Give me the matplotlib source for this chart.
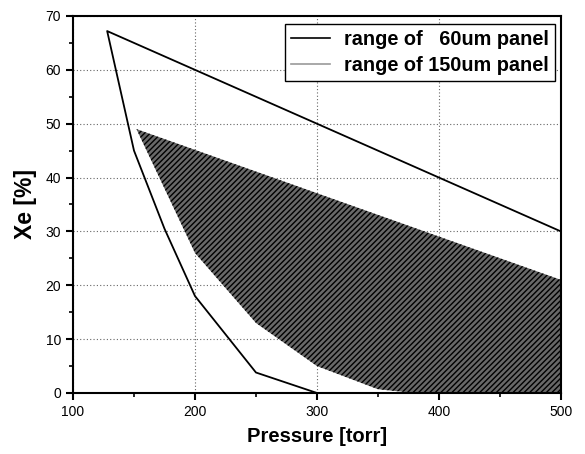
import matplotlib
matplotlib.use("Agg")
import matplotlib.pyplot as plt
from matplotlib.lines import Line2D
from matplotlib.ticker import MultipleLocator

# range of 60um panel (outline)
p60_top_x = [500, 128]
p60_top_y = [30, 67.2]
p60_low_x = [128, 150, 175, 200, 250, 300, 500, 500]
p60_low_y = [67.2, 45, 30.5, 18, 3.8, 0, 0, 30]

# range of 150um panel (shaded)
p150_x = [152, 500, 500, 380, 350, 300, 250, 200, 152]
p150_y = [49, 21, 0, 0, 0.7, 5, 13, 26, 49]

plt.rcParams["font.family"] = ["Liberation Sans", "DejaVu Sans"]
plt.rcParams["hatch.linewidth"] = 1.0
plt.rcParams["hatch.color"] = "black"

fig = plt.figure(figsize=(5.85, 4.54), dpi=100)
ax = fig.add_axes([0.1248, 0.1344, 0.834, 0.8304])

ax.fill(p150_x, p150_y, facecolor="#686868", edgecolor="black", hatch="//////", linewidth=0, zorder=2)
ax.plot(p60_top_x + p60_low_x, p60_top_y + p60_low_y, color="black", lw=1.3, zorder=3)

ax.set_xlim(100, 500)
ax.set_ylim(0, 70)
ax.xaxis.set_major_locator(MultipleLocator(100))
ax.xaxis.set_minor_locator(MultipleLocator(50))
ax.yaxis.set_major_locator(MultipleLocator(10))
ax.yaxis.set_minor_locator(MultipleLocator(5))
ax.grid(True, which="major", color="#666666", linestyle=(0, (1, 2)), linewidth=0.8, zorder=1)
ax.set_axisbelow(True)

for s in ax.spines.values():
    s.set_linewidth(1.5)
ax.tick_params(which="major", direction="out", length=5, width=1.5, labelsize=10)
ax.tick_params(which="minor", direction="out", length=3, width=1.2)

ax.set_xlabel("Pressure [torr]", fontsize=14.5, fontweight="bold", labelpad=6)
ax.set_ylabel("Xe [%]", fontsize=16.5, fontweight="bold", labelpad=6)

handles = [Line2D([], [], color="black", lw=1.2),
           Line2D([], [], color="#999999", lw=1.2)]
leg = ax.legend(handles, ["range of   60um panel", "range of 150um panel"],
                loc="upper right", bbox_to_anchor=(0.988, 0.978), fancybox=False,
                framealpha=1, edgecolor="black", borderpad=0.3, labelspacing=0.35,
                handlelength=2.0, handletextpad=0.7, borderaxespad=0,
                prop={"size": 14.3, "weight": "bold"})
leg.get_frame().set_linewidth(1.0)

fig.savefig("out.png", dpi=100)
